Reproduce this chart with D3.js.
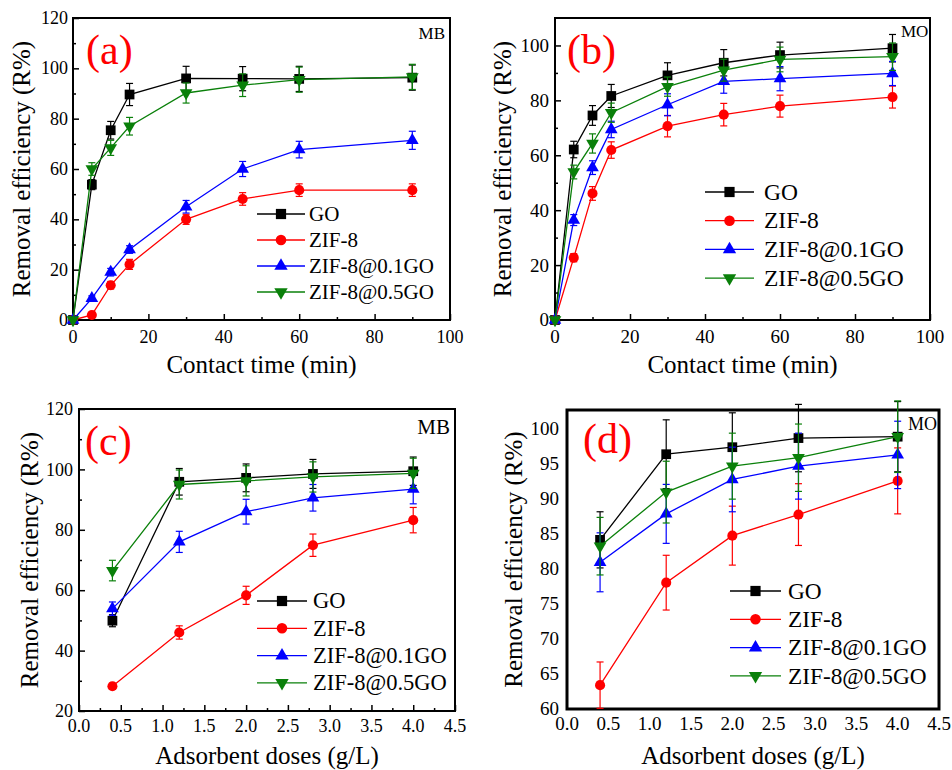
<!DOCTYPE html>
<html>
<head>
<meta charset="utf-8">
<script src="https://cdn.jsdelivr.net/npm/d3@7"></script>
<style>
  body { margin: 0; background: #fff; }
  svg text { font-family: 'Liberation Serif', 'DejaVu Serif', serif; }
</style>
</head>
<body>
<svg id="chart" width="952" height="770" font-family="'Liberation Serif', 'DejaVu Serif', serif"></svg>
<script>
// x values
var timeX = [0, 5, 10, 15, 30, 45, 60, 90];
var doseX = [0.4, 1.2, 2.0, 2.8, 4.0];
var seriesNames = ['GO', 'ZIF-8', 'ZIF-8@0.1GO', 'ZIF-8@0.5GO'];

// tick labels
var timeTicks = [0, 20, 40, 60, 80, 100];
var timeMinor = [10, 30, 50, 70, 90];
var doseTicks = [0, 0.5, 1.0, 1.5, 2.0, 2.5, 3.0, 3.5, 4.0, 4.5];
var doseMinor = [0.25, 0.75, 1.25, 1.75, 2.25, 2.75, 3.25, 3.75, 4.25];
var ticksA = [0, 20, 40, 60, 80, 100, 120];
var minorA = [10, 30, 50, 70, 90, 110];
var ticksB = [0, 20, 40, 60, 80, 100];
var minorB = [10, 30, 50, 70, 90];
var ticksC = [20, 40, 60, 80, 100, 120];
var minorC = [30, 50, 70, 90, 110];
var ticksD = [60, 65, 70, 75, 80, 85, 90, 95, 100];

// (a) MB, contact time
var aValues = [
    [0, 53.8, 75.4, 89.6, 96.0, 95.9, 95.8, 96.3],
    [0, 2.0, 13.8, 22.1, 40.0, 48.1, 51.6, 51.6],
    [0, 8.6, 19.0, 28.0, 45.0, 60.0, 67.7, 71.4],
    [0, 60.0, 68.4, 77.0, 90.2, 93.3, 95.5, 96.6]
];
var aErrors = [
    [0, 2.0, 3.5, 4.4, 4.8, 4.8, 5.0, 5.0],
    [0, 1.0, 1.5, 2.0, 2.0, 2.5, 2.5, 2.5],
    [0, 1.0, 1.5, 1.5, 2.5, 3.0, 3.3, 3.6],
    [0, 2.5, 3.0, 3.5, 4.0, 4.5, 5.0, 5.0]
];

// (b) MO, contact time
var bValues = [
    [0, 62.1, 74.5, 81.6, 89.1, 93.7, 96.5, 99.0],
    [0, 22.7, 46.1, 61.9, 70.6, 74.8, 77.9, 81.2],
    [0, 36.4, 55.5, 69.4, 78.4, 86.9, 87.9, 89.8],
    [0, 53.9, 64.3, 75.5, 85.0, 91.0, 94.9, 95.9]
];
var bErrors = [
    [0, 3.0, 3.6, 4.2, 4.6, 4.8, 4.7, 5.0],
    [0, 1.5, 2.5, 3.0, 3.9, 4.1, 4.0, 4.0],
    [0, 2.0, 2.5, 3.0, 4.0, 4.3, 4.4, 4.4],
    [0, 2.5, 3.5, 3.5, 3.5, 4.0, 4.5, 5.0]
];

// (c) MB, adsorbent dose
var cValues = [
    [49.9, 95.9, 97.2, 98.5, 99.4],
    [28.2, 46.0, 58.3, 74.9, 83.2],
    [53.9, 76.0, 86.0, 90.6, 93.5],
    [66.5, 95.0, 96.2, 97.5, 98.7]
];
var cErrors = [
    [2.0, 4.4, 4.6, 4.8, 4.7],
    [1.0, 2.2, 3.0, 3.7, 4.2],
    [2.2, 3.5, 4.1, 4.4, 4.9],
    [3.4, 4.8, 5.0, 5.0, 5.0]
];

// (d) MO, adsorbent dose
var dValues = [
    [84.1, 96.3, 97.3, 98.6, 98.8],
    [63.4, 78.0, 84.7, 87.7, 92.5],
    [80.9, 87.8, 92.7, 94.6, 96.2],
    [83.2, 90.9, 94.6, 95.8, 98.8]
];
var dErrors = [
    [4.0, 4.9, 4.9, 4.8, 5.0],
    [3.3, 3.9, 4.2, 4.4, 4.7],
    [4.2, 4.2, 4.6, 4.7, 4.8],
    [4.1, 4.4, 4.7, 4.8, 5.1]
];

var seriesColors = ['#000000', '#ff0000', '#0000ff', '#0a800a'];
var seriesSymbols = [
    { type: d3.symbolSquare, size: 95, rot: 0 },
    { type: d3.symbolCircle, size: 80, rot: 0 },
    { type: d3.symbolTriangle, size: 70, rot: 0 },
    { type: d3.symbolTriangle, size: 70, rot: 180 }
];

var svg = d3.select('#chart');

var panels = [{
    label: '(a)', dye: 'MB', xs: timeX, values: aValues, errors: aErrors,
    xDomain: [0, 100], yDomain: [0, 120],
    xTicks: timeTicks, xMinor: timeMinor, yTicks: ticksA, yMinor: minorA,
    xFormat: d3.format('d'), yFormat: d3.format('d'),
    xTitle: 'Contact time (min)',
    left: 73, right: 450, top: 18, bottom: 320,
    frame: 2, ticks: true, tickFont: 18, yLabelGap: 5, xLabelDy: 23,
    yTitleX: 30, xTitleY: 373,
    legend: { x1: 257, x2: 305, tx: 309, y: 214, dy: 26, font: 21 },
    tag: { x: 86, y: 64 },
    dyeText: { x: 445, y: 39, size: 17, anchor: 'end' }
}, {
    label: '(b)', dye: 'MO', xs: timeX, values: bValues, errors: bErrors,
    xDomain: [0, 100], yDomain: [0, 110],
    xTicks: timeTicks, xMinor: timeMinor, yTicks: ticksB, yMinor: minorB,
    xFormat: d3.format('d'), yFormat: d3.format('d'),
    xTitle: 'Contact time (min)',
    left: 555, right: 930, top: 18, bottom: 320,
    frame: 2, ticks: true, tickFont: 19, yLabelGap: 6, xLabelDy: 23,
    yTitleX: 511, xTitleY: 373,
    legend: { x1: 705, x2: 754, tx: 764, y: 192, dy: 28.7, font: 23.5 },
    tag: { x: 567, y: 64 },
    dyeText: { x: 901, y: 37, size: 17, anchor: 'start' }
}, {
    label: '(c)', dye: 'MB', xs: doseX, values: cValues, errors: cErrors,
    xDomain: [0, 4.5], yDomain: [20, 120],
    xTicks: doseTicks, xMinor: doseMinor, yTicks: ticksC, yMinor: minorC,
    xFormat: d3.format('.1f'), yFormat: d3.format('d'),
    xTitle: 'Adsorbent doses (g/L)',
    left: 79, right: 455, top: 409, bottom: 711,
    frame: 2, ticks: true, tickFont: 18, yLabelGap: 6, xLabelDy: 21,
    yTitleX: 38, xTitleY: 764,
    legend: { x1: 257, x2: 307, tx: 313, y: 601, dy: 27.3, font: 22.5 },
    tag: { x: 85, y: 455 },
    dyeText: { x: 450, y: 434, size: 21, anchor: 'end' }
}, {
    label: '(d)', dye: 'MO', xs: doseX, values: dValues, errors: dErrors,
    xDomain: [0, 4.5], yDomain: [60, 102.6],
    xTicks: doseTicks, xMinor: [], yTicks: ticksD, yMinor: [],
    xFormat: d3.format('.1f'), yFormat: d3.format('d'),
    xTitle: 'Adsorbent doses (g/L)',
    left: 567, right: 939, top: 410, bottom: 709,
    frame: 3, ticks: false, tickFont: 19, yLabelGap: 8, xLabelDy: 21,
    yTitleX: 522, xTitleY: 764,
    legend: { x1: 730, x2: 781, tx: 788, y: 591, dy: 28.3, font: 23.3 },
    tag: { x: 583, y: 453 },
    dyeText: { x: 908, y: 430, size: 18, anchor: 'start' }
}];

panels.forEach(drawPanel);

function drawPanel(p) {
    var g = svg.append('g');

    var x = d3.scaleLinear().domain(p.xDomain).range([p.left, p.right]);
    var y = d3.scaleLinear().domain(p.yDomain).range([p.bottom, p.top]);

    // inward ticks, no domain line (the frame is drawn separately)
    if (p.ticks) {
        var axes = [
            [d3.axisBottom(x).tickValues(p.xTicks).tickSize(-6), 'translate(0,' + p.bottom + ')'],
            [d3.axisBottom(x).tickValues(p.xMinor).tickSize(-3), 'translate(0,' + p.bottom + ')'],
            [d3.axisLeft(y).tickValues(p.yTicks).tickSize(-6), 'translate(' + p.left + ',0)'],
            [d3.axisLeft(y).tickValues(p.yMinor).tickSize(-3), 'translate(' + p.left + ',0)']
        ];
        axes.forEach(function (a) {
            var ag = g.append('g')
                .attr('transform', a[1])
                .call(a[0].tickFormat('').tickSizeOuter(0));
            ag.select('.domain').remove();
            ag.selectAll('line').attr('stroke-width', 1.5);
        });
    }

    // tick labels
    g.selectAll('.xlab')
        .data(p.xTicks)
        .enter().append('text')
        .attr('x', function (d) { return x(d); })
        .attr('y', p.bottom + p.xLabelDy)
        .attr('text-anchor', 'middle')
        .attr('font-size', p.tickFont)
        .text(p.xFormat);

    g.selectAll('.ylab')
        .data(p.yTicks)
        .enter().append('text')
        .attr('x', p.left - p.yLabelGap)
        .attr('y', function (d) { return y(d) + p.tickFont * 0.34; })
        .attr('text-anchor', 'end')
        .attr('font-size', p.tickFont)
        .text(p.yFormat);

    // frame
    g.append('rect')
        .attr('x', p.left)
        .attr('y', p.top)
        .attr('width', p.right - p.left)
        .attr('height', p.bottom - p.top)
        .attr('fill', 'none')
        .attr('stroke', '#000')
        .attr('stroke-width', p.frame);

    // axis titles
    g.append('text')
        .attr('x', (p.left + p.right) / 2)
        .attr('y', p.xTitleY)
        .attr('text-anchor', 'middle')
        .attr('font-size', 25)
        .text(p.xTitle);

    g.append('text')
        .attr('transform', 'translate(' + p.yTitleX + ',' + (p.top + p.bottom) / 2 + ') rotate(-90)')
        .attr('text-anchor', 'middle')
        .attr('font-size', 25)
        .text('Removal efficiency (R%)');

    var line = d3.line()
        .x(function (d) { return x(d[0]); })
        .y(function (d) { return y(d[1]); });

    p.values.forEach(function (vals, i) {
        var color = seriesColors[i];
        var pts = vals.map(function (v, k) { return [p.xs[k], v, p.errors[i][k]]; });
        var sg = g.append('g');

        sg.append('path')
            .attr('d', line(pts))
            .attr('fill', 'none')
            .attr('stroke', color)
            .attr('stroke-width', 1.3);

        // error bars
        var eb = sg.selectAll('.err')
            .data(pts.filter(function (d) { return d[2] > 0; }))
            .enter().append('g')
            .attr('stroke', color)
            .attr('stroke-width', 1.2);
        eb.append('line')
            .attr('x1', function (d) { return x(d[0]); })
            .attr('x2', function (d) { return x(d[0]); })
            .attr('y1', function (d) { return y(d[1] - d[2]); })
            .attr('y2', function (d) { return y(d[1] + d[2]); });
        [1, -1].forEach(function (s) {
            eb.append('line')
                .attr('x1', function (d) { return x(d[0]) - 3.5; })
                .attr('x2', function (d) { return x(d[0]) + 3.5; })
                .attr('y1', function (d) { return y(d[1] + s * d[2]); })
                .attr('y2', function (d) { return y(d[1] + s * d[2]); });
        });

        // markers
        var sym = seriesSymbols[i];
        sg.selectAll('.mk')
            .data(pts)
            .enter().append('path')
            .attr('d', d3.symbol().type(sym.type).size(sym.size))
            .attr('transform', function (d) {
                return 'translate(' + x(d[0]) + ',' + y(d[1]) + ') rotate(' + sym.rot + ')';
            })
            .attr('fill', color);
    });

    // legend
    var lg = p.legend;
    seriesNames.forEach(function (name, i) {
        var ly = lg.y + i * lg.dy;
        var sym = seriesSymbols[i];
        g.append('line')
            .attr('x1', lg.x1).attr('x2', lg.x2)
            .attr('y1', ly).attr('y2', ly)
            .attr('stroke', seriesColors[i])
            .attr('stroke-width', 1.3);
        g.append('path')
            .attr('d', d3.symbol().type(sym.type).size(sym.size * 1.1)())
            .attr('transform', 'translate(' + (lg.x1 + lg.x2) / 2 + ',' + ly + ') rotate(' + sym.rot + ')')
            .attr('fill', seriesColors[i]);
        g.append('text')
            .attr('x', lg.tx)
            .attr('y', ly + lg.font * 0.33)
            .attr('font-size', lg.font)
            .text(name);
    });

    // panel tag and dye name
    g.append('text')
        .attr('x', p.tag.x)
        .attr('y', p.tag.y)
        .attr('font-size', 42)
        .attr('fill', '#ff0000')
        .text(p.label);

    g.append('text')
        .attr('x', p.dyeText.x)
        .attr('y', p.dyeText.y)
        .attr('text-anchor', p.dyeText.anchor)
        .attr('font-size', p.dyeText.size)
        .text(p.dye);
}
</script>
</body>
</html>
